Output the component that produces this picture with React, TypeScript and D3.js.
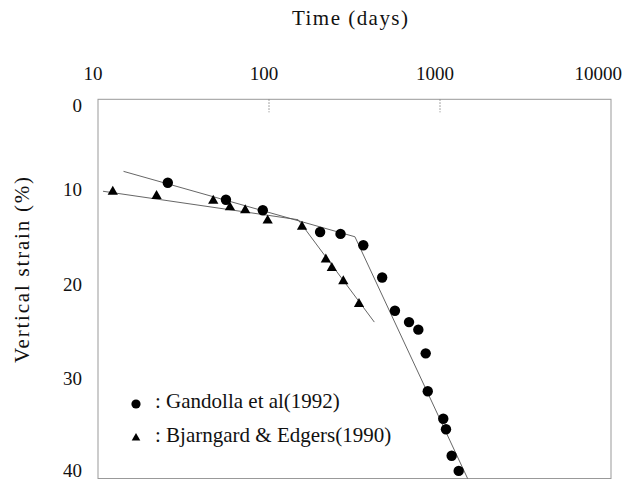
import React from "react";
import * as d3 from "d3";

// Gandolla et al. (1992) measurements
const gandollaDays = [25.6, 56, 92, 199, 262, 356, 459, 545, 659, 747, 825, 848, 1045, 1084, 1170, 1286];
const gandollaStrain = [8.8, 10.6, 11.7, 14.0, 14.2, 15.4, 18.8, 22.3, 23.5, 24.3, 26.8, 30.8, 33.7, 34.8, 37.6, 39.2];

// Bjarngard & Edgers (1990) measurements
const bjarnDays = [12.2, 22, 47.2, 59.1, 72.6, 98.2, 156, 215, 233, 272, 336];
const bjarnStrain = [9.75, 10.2, 10.7, 11.4, 11.7, 12.8, 13.45, 16.9, 17.8, 19.2, 21.6];

// Bilinear trend lines
const gandollaFitDays = [14.1, 318, 1450];
const gandollaFitStrain = [7.6, 14.5, 40];
const bjarnFitDays = [10.7, 148, 413];
const bjarnFitStrain = [9.7, 12.7, 23.5];

const xTicks = [10, 100, 1000, 10000];
const yTicks = [0, 10, 20, 30, 40];
const legendLabels = [": Gandolla et al(1992)", ": Bjarngard & Edgers(1990)"];

const W = 629;
const H = 481;
const left = 98;
const right = 611;
const top = 99.3;
const bottom = 478.5;
const font = "'Liberation Serif', 'DejaVu Serif', serif";

export default function App() {
  const x = d3.scaleLog().domain([10, 10000]).range([left, right]);
  const y = d3.scaleLinear().domain([0, 40]).range([top, bottom]);

  const line = d3
    .line<[number, number]>()
    .x((d) => x(d[0]))
    .y((d) => y(d[1]));

  const gFit = gandollaFitDays.map((d, i) => [d, gandollaFitStrain[i]] as [number, number]);
  const bFit = bjarnFitDays.map((d, i) => [d, bjarnFitStrain[i]] as [number, number]);

  const tri = d3.symbol().type(d3.symbolTriangle).size(46)();
  const triSmall = d3.symbol().type(d3.symbolTriangle).size(32)();

  const txt = { fontFamily: font, fill: "#111" } as React.CSSProperties;

  return (
    <svg width={W} height={H} style={{ position: "absolute", left: 0, top: 0, background: "#fff" }}>
      <rect x={0} y={0} width={W} height={H} fill="#fff" />

      {/* frame */}
      <rect
        x={left}
        y={top}
        width={right - left}
        height={bottom - top}
        fill="none"
        stroke="#999"
        strokeWidth={1}
      />

      {/* inner ticks on the top axis */}
      {[100, 1000].map((v) => (
        <line
          key={v}
          x1={x(v)}
          x2={x(v)}
          y1={top}
          y2={top + 13}
          stroke="#888"
          strokeWidth={1}
          strokeDasharray="1.5 1.5"
        />
      ))}

      {/* x tick labels */}
      {xTicks.map((v, i) => (
        <text
          key={v}
          x={i === xTicks.length - 1 ? x(v) + 11 : x(v) - 5}
          y={80}
          textAnchor={i === xTicks.length - 1 ? "end" : "middle"}
          fontSize={19}
          style={txt}
        >
          {v}
        </text>
      ))}
      <text x={350} y={25} textAnchor="middle" fontSize={21} style={txt} textLength={116} lengthAdjust="spacing">
        Time (days)
      </text>

      {/* y tick labels */}
      {yTicks.map((v) => (
        <text
          key={v}
          x={82}
          y={v === 0 ? y(v) + 6 : v === 40 ? y(v) - 8 : y(v) - 5}
          dy="0.35em"
          textAnchor="end"
          fontSize={19}
          style={txt}
        >
          {v}
        </text>
      ))}
      <text
        transform={`translate(29, 270) rotate(-90)`}
        textAnchor="middle"
        fontSize={21}
        style={txt}
        textLength={186}
        lengthAdjust="spacing"
      >
        Vertical strain (%)
      </text>

      {/* trend lines */}
      <path d={line(gFit) ?? ""} fill="none" stroke="#555" strokeWidth={0.9} />
      <path d={line(bFit) ?? ""} fill="none" stroke="#555" strokeWidth={0.9} />

      {/* data markers */}
      {gandollaDays.map((d, i) => (
        <circle key={`g${i}`} cx={x(d)} cy={y(gandollaStrain[i])} r={5.2} fill="#000" />
      ))}
      {bjarnDays.map((d, i) => (
        <path key={`b${i}`} d={tri ?? ""} transform={`translate(${x(d)},${y(bjarnStrain[i])})`} fill="#000" />
      ))}

      {/* legend */}
      <circle cx={136} cy={404} r={4.6} fill="#000" />
      <text x={155} y={408} fontSize={21} style={txt}>
        {legendLabels[0]}
      </text>
      <path d={triSmall ?? ""} transform="translate(136,438)" fill="#000" />
      <text x={155} y={442} fontSize={21} style={txt}>
        {legendLabels[1]}
      </text>
    </svg>
  );
}
